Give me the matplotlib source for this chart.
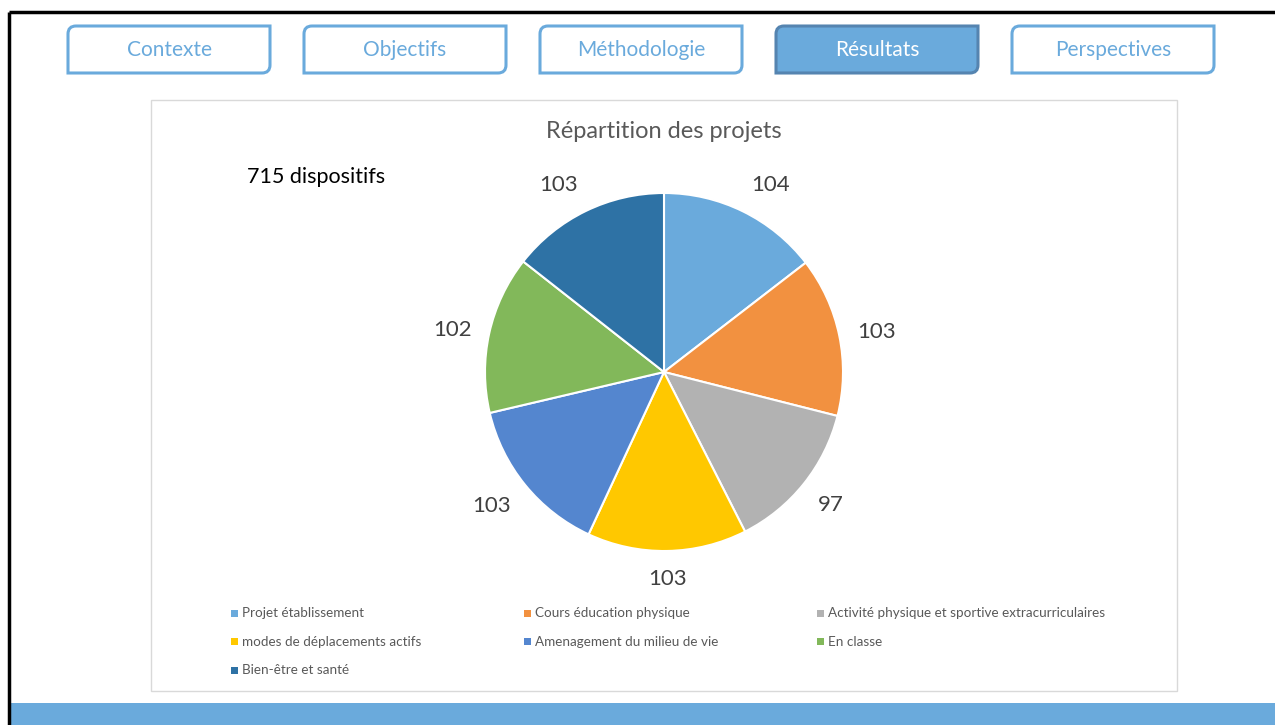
import numpy as np
import matplotlib.pyplot as plt
from matplotlib.path import Path
from matplotlib.patches import PathPatch, Rectangle

plt.rcParams['font.family'] = ['Lato', 'DejaVu Sans']

# data
categories = ['Projet établissement', 'Cours éducation physique',
              'Activité physique et sportive extracurriculaires',
              'modes de déplacements actifs', 'Amenagement du milieu de vie',
              'En classe', 'Bien-être et santé']
counts = [104, 103, 97, 103, 103, 102, 103]
colors = ['#6AAADC', '#F29140', '#B2B2B2', '#FFC800', '#5486CF', '#82B85A', '#2E72A5']
tabs = ['Contexte', 'Objectifs', 'Méthodologie', 'Résultats', 'Perspectives']
active_tab = 'Résultats'

W, H = 1275, 725
fig = plt.figure(figsize=(W / 100, H / 100), dpi=100, facecolor='white')

# background axes in pixel coordinates (y goes down)
bg = fig.add_axes([0, 0, 1, 1])
bg.set_xlim(0, W)
bg.set_ylim(H, 0)
bg.axis('off')

# slide frame
bg.plot([9, 9], [12, H], color='black', lw=2.5, solid_capstyle='butt')
bg.plot([9, W], [12, 12], color='black', lw=2.5, solid_capstyle='butt')
bg.add_patch(Rectangle((11, 703), W - 11, H - 703, color='#6AAADC', lw=0))


def tab_patch(x0, y0, x1, y1, r, **kw):
    # rounded top-left and bottom-right corners
    verts = [(x0, y0 + r), (x0, y0), (x0 + r, y0), (x1, y0), (x1, y1 - r),
             (x1, y1), (x1 - r, y1), (x0, y1), (x0, y0 + r)]
    codes = [Path.MOVETO, Path.CURVE3, Path.CURVE3, Path.LINETO, Path.LINETO,
             Path.CURVE3, Path.CURVE3, Path.LINETO, Path.CLOSEPOLY]
    return PathPatch(Path(verts, codes), **kw)


for i, name in enumerate(tabs):
    x0 = 68 + i * 236
    x1 = x0 + 202
    if name == active_tab:
        bg.add_patch(tab_patch(x0, 26, x1, 73, 8, facecolor='#6AAADC',
                               edgecolor='#5584B0', lw=2.2))
        tc = 'white'
    else:
        bg.add_patch(tab_patch(x0, 26, x1, 73, 8, facecolor='white',
                               edgecolor='#6AAADC', lw=2.2))
        tc = '#6AAADC'
    bg.text((x0 + x1) / 2, 50, name, ha='center', va='center', fontsize=15, color=tc)

# chart area
bg.add_patch(Rectangle((151, 100), 1026, 591, facecolor='white', edgecolor='#D9D9D9', lw=1))
bg.text(664, 131, 'Répartition des projets', ha='center', va='center',
        fontsize=17, color='#595959')
bg.text(247, 177, '715 dispositifs', ha='left', va='center', fontsize=15.5, color='black')

# legend, row-major, 3 columns
for i, (lab, col) in enumerate(zip(categories, colors)):
    lx = 234 + (i % 3) * 293
    ly = 613 + (i // 3) * 28.5
    bg.add_patch(Rectangle((lx - 3.5, ly - 3.5), 7, 7, color=col, lw=0))
    bg.text(lx + 8, ly, lab, ha='left', va='center', fontsize=9.7, color='#595959')

# pie
cx, cy, R = 664, 372, 179
ax = fig.add_axes([(cx - R) / W, (H - cy - R) / H, 2 * R / W, 2 * R / H])
ax.set_facecolor('none')
wedges, texts = ax.pie(counts, labels=[str(v) for v in counts], colors=colors,
                       startangle=90, counterclock=False, labeldistance=1.1,
                       wedgeprops=dict(edgecolor='white', linewidth=1.5),
                       textprops=dict(fontsize=16, color='#404040'))
# place labels outside the slice end, like the office chart does
for w, t in zip(wedges, texts):
    mid = np.deg2rad((w.theta1 + w.theta2) / 2)
    c, s = np.cos(mid), np.sin(mid)
    t.set_ha('center' if abs(c) < 0.15 else ('left' if c > 0 else 'right'))
    t.set_va('bottom' if s > 0.5 else ('top' if s < -0.5 else 'center'))
ax.set_xlim(-1, 1)
ax.set_ylim(-1, 1)
ax.set_aspect('equal')

fig.savefig('out.png', dpi=100)
